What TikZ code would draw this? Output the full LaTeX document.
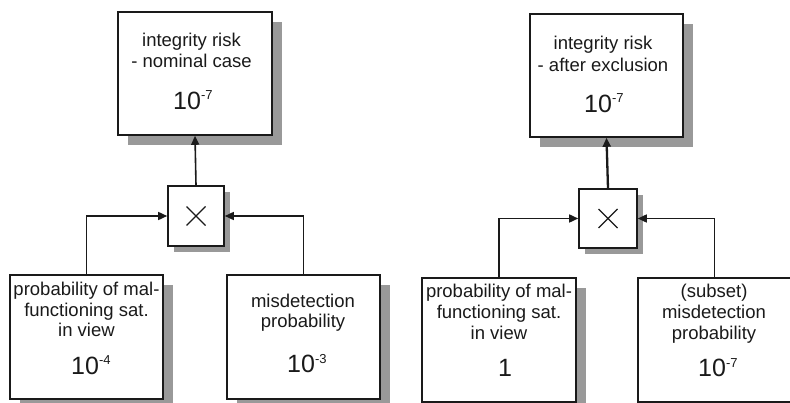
\documentclass[tikz,border=0pt]{standalone}
\usepackage{fontspec}
\setmainfont{Liberation Sans}
\usetikzlibrary{arrows.meta,shadows}
\definecolor{ink}{HTML}{1A1A1A}
\definecolor{shade}{HTML}{999999}
\newcommand\supx[1]{\raisebox{0.4em}{\fontsize{13}{13}\selectfont #1}}
\begin{document}
\begin{tikzpicture}[x=1pt,y=-1pt,
  box/.style={draw=ink, line width=1.6pt, fill=white, rectangle, inner sep=0,
    minimum width=153pt, minimum height=124pt,
    general shadow={fill=shade, shadow xshift=10pt, shadow yshift=-10pt}},
  mult/.style={draw=ink, line width=1.6pt, fill=white, rectangle, inner sep=0,
    minimum width=57pt, minimum height=60pt,
    general shadow={fill=shade, shadow xshift=6pt, shadow yshift=-6pt},
    path picture={\draw[ink, line width=1.3pt]
      ([shift={(-9.5pt,-9.5pt)}]path picture bounding box.center) -- ([shift={(9.5pt,9.5pt)}]path picture bounding box.center)
      ([shift={(-9.5pt,9.5pt)}]path picture bounding box.center) -- ([shift={(9.5pt,-9.5pt)}]path picture bounding box.center);}},
  txt/.style={anchor=base, font=\fontsize{18.5}{21}\selectfont, text=ink, inner sep=0},
  num/.style={anchor=base west, font=\fontsize{25}{25}\selectfont, text=ink, inner sep=0},
  arr/.style={draw=ink, line width=1.6pt, -{Triangle[length=9pt,width=8pt]}}
]
\useasboundingbox (0,0) rectangle (790,403);
% left diagram
\node[box, minimum width=154pt, minimum height=123pt] (tl) at (195,73.5) {};
\node[mult, minimum width=56pt] (x1) at (196,216) {};
\node[box] (bll) at (86.5,337) {};
\node[box] (blr) at (303.5,337) {};
% right diagram
\node[box, minimum height=123pt] (tr) at (606.5,75.5) {};
\node[mult, minimum width=58pt, minimum height=59pt] (x2) at (608,218.5) {};
\node[box, minimum width=154pt] (brl) at (499,340) {};
\node[box] (brr) at (714.5,340) {};
% texts left
\node[txt] (tla) at (191.5,47) {integrity risk};
\node[txt] (tlb) at (191.5,67.5) {- nominal case};
\node[num] (tlc) at (173,110) {10\supx{-7}};
\node[txt] (blla) at (86.5,296) {probability of mal-};
\node[txt] (bllb) at (86.5,316.5) {functioning sat.};
\node[txt] (bllc) at (86.5,337) {in view};
\node[num] (blld) at (71,374) {10\supx{-4}};
\node[txt] (blra) at (303,308) {misdetection};
\node[txt] (blrb) at (303,328) {probability};
\node[num] (blrc) at (287,373) {10\supx{-3}};
% texts right
\node[txt] (tra) at (603,50) {integrity risk};
\node[txt] (trb) at (603,72) {- after exclusion};
\node[num] (trc) at (584,113) {10\supx{-7}};
\node[txt] (brla) at (499,298) {probability of mal-};
\node[txt] (brlb) at (499,319) {functioning sat.};
\node[txt] (brlc) at (499,340) {in view};
\node[num] (brld) at (498,377) {1};
\node[txt] (brra) at (714,298) {(subset)};
\node[txt] (brrb) at (714,319) {misdetection};
\node[txt] (brrc) at (714,340) {probability};
\node[num] (brrd) at (698,377) {10\supx{-7}};
% connectors
\draw[arr] (x1.north) -- (tl.south);
\draw[arr] (bll.north) |- (x1.west);
\draw[arr] (blr.north) |- (x1.east);
\draw[arr, line width=2.3pt] (x2.north) -- (tr.south);
\draw[arr] (brl.north) |- (x2.west);
\draw[arr] (brr.north) |- (x2.east);
\end{tikzpicture}
\end{document}
